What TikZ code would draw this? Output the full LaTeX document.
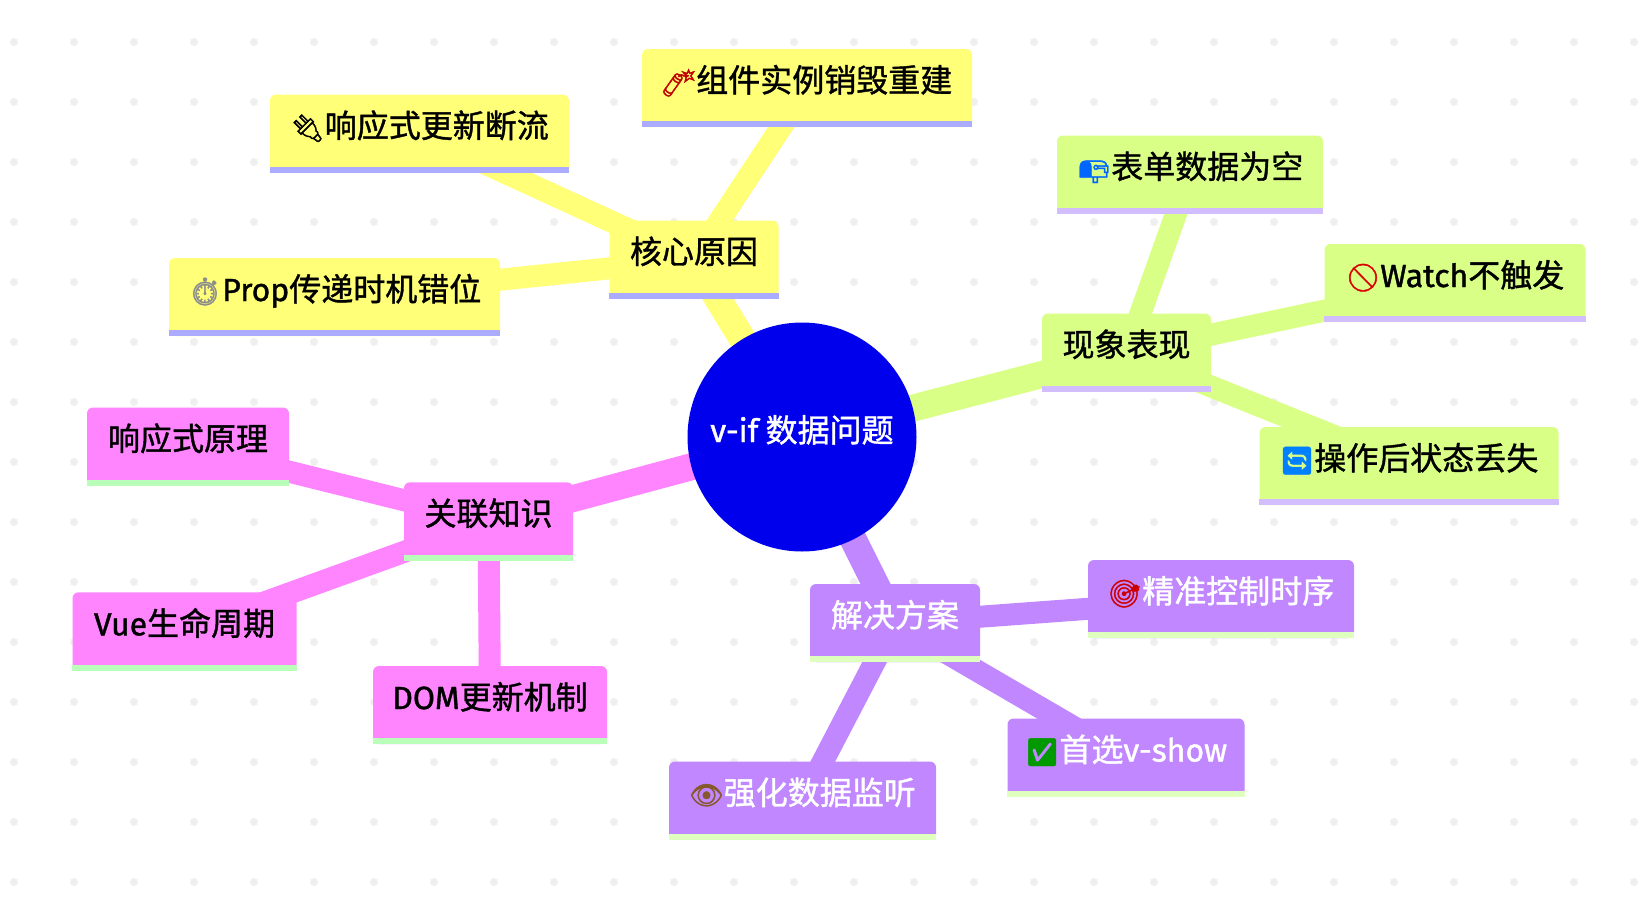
\documentclass[tikz,border=0pt]{standalone}
\usepackage{fontspec}
\usetikzlibrary{backgrounds}
\setmainfont[FakeBold=1.2]{Noto Sans CJK SC}
\newfontfamily\latinfont[FakeBold=1.2]{Fira Sans}
\newfontfamily\emojifont[Scale=0.85,FakeBold=1.5]{Noto Emoji}
\definecolor{coreyellow}{HTML}{FFFF78}
\definecolor{coreband}{HTML}{ABABFF}
\definecolor{showgreen}{HTML}{D9FF87}
\definecolor{showband}{HTML}{D2BDFF}
\definecolor{fixpurple}{HTML}{C187FF}
\definecolor{fixband}{HTML}{DEFFBD}
\definecolor{linkpink}{HTML}{FF85FF}
\definecolor{linkband}{HTML}{B9FFB9}
\definecolor{rootblue}{HTML}{0000EC}
\definecolor{griddot}{HTML}{EFEFEF}
\newcommand{\emo}[2]{{\emojifont\textcolor{#1}{#2}}}
\newcommand{\lat}[1]{{\latinfont #1}}
\tikzset{
	mapbox/.style={rectangle,rounded corners=6pt,inner sep=0pt,text height=43pt,text depth=35pt,font=\fontsize{32}{38}\selectfont},
	corebox/.style={mapbox,fill=coreyellow,text=black},
	showbox/.style={mapbox,fill=showgreen,text=black},
	fixbox/.style={mapbox,fill=fixpurple,text=white},
	linkbox/.style={mapbox,fill=linkpink,text=black},
	stem/.style={line width=27pt},
	twig/.style={line width=22pt}
}
\begin{document}
\begin{tikzpicture}[x=1pt,y=-1pt]
	\useasboundingbox (0,0) rectangle (1646,902);

	% Centro
	\node[circle,fill=rootblue,text=white,minimum size=229pt,inner sep=0pt,text height=20pt,text depth=10pt,font=\fontsize{32}{38}\selectfont] (root) at (802,437) {\lat{v-if} 数据问题};

	% Causas
	\node[corebox,minimum width=169pt] (core) at (694,259.5) {核心原因};
	\node[corebox,minimum width=299pt] (plug) at (419.5,133.5) {\emo{black}{🔌}响应式更新断流};
	\node[corebox,minimum width=330pt] (bomb) at (807,88) {\emo{red!75!black}{🧨}组件实例销毁重建};
	\node[corebox,minimum width=331pt] (watch) at (334.5,297) {\emo{black!45}{⏱}\lat{Prop}传递时机错位};

	% Sintomas
	\node[showbox,minimum width=169pt] (show) at (1126.5,352.5) {现象表现};
	\node[showbox,minimum width=266pt] (mail) at (1190,174.5) {\emo{blue!60!cyan}{📭}表单数据为空};
	\node[showbox,minimum width=261pt] (stop) at (1455,283) {\emo{red!85!black}{🚫}\lat{Watch}不触发};
	\node[showbox,minimum width=299pt] (loop) at (1409,466) {\emo{blue!50!cyan}{🔄}操作后状态丢失};

	% Soluciones
	\node[fixbox,minimum width=170pt] (fix) at (895,623) {解决方案};
	\node[fixbox,minimum width=266pt] (dart) at (1221,599) {\emo{red!80!black}{🎯}精准控制时序};
	\node[fixbox,minimum width=237pt] (check) at (1126,757.5) {\emo{green!60!black}{✅}首选\lat{v-show}};
	\node[fixbox,minimum width=267pt] (eye) at (802.5,800.5) {\emo{brown!70!black}{👁}强化数据监听};

	% Relacionados
	\node[linkbox,minimum width=169pt] (link) at (488.5,521.3) {关联知识};
	\node[linkbox,minimum width=202pt] (react) at (188,446.5) {响应式原理};
	\node[linkbox,minimum width=224pt] (vue) at (184.5,631.3) {\lat{Vue}生命周期};
	\node[linkbox,minimum width=234pt] (dom) at (490,705) {\lat{DOM}更新机制};

	% Bandas inferiores
	\foreach \n/\c in {core/coreband,plug/coreband,bomb/coreband,watch/coreband,
		show/showband,mail/showband,stop/showband,loop/showband,
		fix/fixband,dart/fixband,check/fixband,eye/fixband,
		link/linkband,react/linkband,vue/linkband,dom/linkband}
		\fill[\c] ([yshift=6pt]\n.south west) rectangle (\n.south east);

	\begin{scope}[on background layer]
		\fill[white] (0,0) rectangle (1646,902);

		% Puntos de fondo
		\foreach \i in {0,...,27}
			\foreach \j in {0,...,14}
				\fill[griddot] (14+60*\i,42+60*\j) circle (4pt);

		% Ramas
		\draw[stem,coreyellow] (root.center) -- (core.center);
		\draw[stem,showgreen] (root.center) -- (show.center);
		\draw[stem,fixpurple] (root.center) -- (fix.center);
		\draw[stem,linkpink] (root.center) -- (link.center);
		\foreach \n in {plug,bomb,watch}
			\draw[twig,coreyellow] (core.center) -- (\n.center);
		\foreach \n in {mail,stop,loop}
			\draw[twig,showgreen] (show.center) -- (\n.center);
		\foreach \n in {dart,check,eye}
			\draw[twig,fixpurple] (fix.center) -- (\n.center);
		\foreach \n in {react,vue,dom}
			\draw[twig,linkpink] (link.center) -- (\n.center);
	\end{scope}
\end{tikzpicture}
\end{document}
